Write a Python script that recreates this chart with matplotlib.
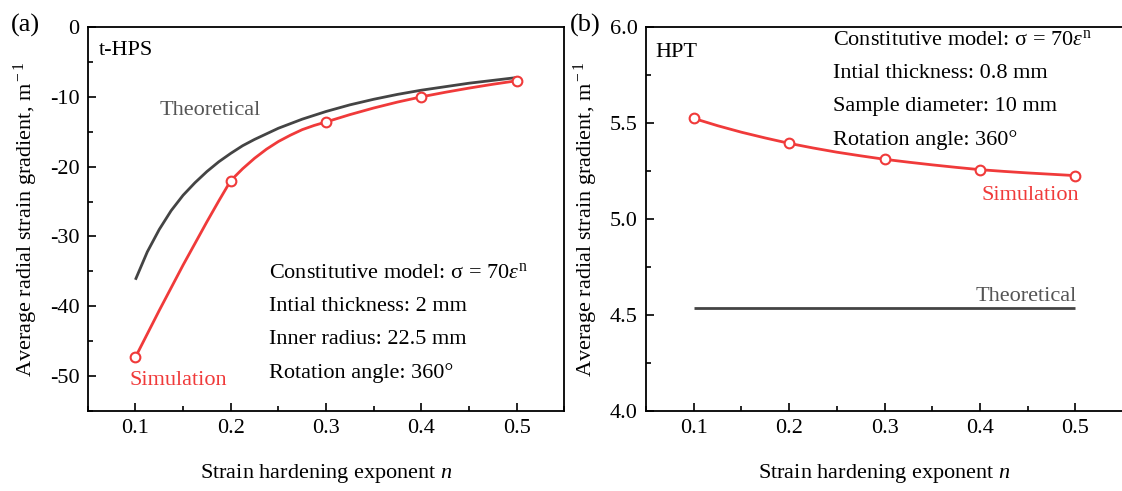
import numpy as np
from matplotlib import pyplot as plt
from matplotlib.ticker import MultipleLocator

# ---- data ----
n_pts = [0.1, 0.2, 0.3, 0.4, 0.5]

# (a) t-HPS
hps_sim = [-47.3, -22.0, -13.6, -10.0, -7.7]
hps_sim_line_n = [0.1, 0.1125, 0.125, 0.1375, 0.15, 0.1625, 0.175, 0.1875, 0.2,
                  0.2125, 0.225, 0.2375, 0.25, 0.2625, 0.275, 0.2875, 0.3,
                  0.325, 0.35, 0.375, 0.4, 0.425, 0.45, 0.475, 0.5]
hps_sim_line = [-47.3, -43.95, -40.6, -37.35, -34.1, -31.0, -27.9, -24.9, -22.0,
                -20.3, -18.8, -17.5, -16.4, -15.5, -14.7, -14.1, -13.6,
                -12.55, -11.6, -10.75, -10.0, -9.35, -8.75, -8.2, -7.7]
hps_theo_n = [0.1, 0.1125, 0.125, 0.1375, 0.15, 0.1625, 0.175, 0.1875, 0.2, 0.2125,
              0.225, 0.25, 0.275, 0.3, 0.325, 0.35, 0.375, 0.4, 0.45, 0.5]
hps_theo = [-36.2, -32.2, -29.0, -26.3, -24.1, -22.3, -20.7, -19.3, -18.1, -17.0,
            -16.1, -14.5, -13.2, -12.1, -11.15, -10.35, -9.65, -9.05, -8.05, -7.24]

# (b) HPT
hpt_sim = [5.524, 5.394, 5.311, 5.257, 5.226]
hpt_sim_line_n = [0.1, 0.125, 0.15, 0.175, 0.2, 0.225, 0.25, 0.275, 0.3,
                  0.325, 0.35, 0.375, 0.4, 0.425, 0.45, 0.475, 0.5]
hpt_sim_line = [5.524, 5.486, 5.452, 5.422, 5.394, 5.370, 5.348, 5.329, 5.311,
                5.296, 5.282, 5.269, 5.257, 5.248, 5.240, 5.233, 5.226]
hpt_theo_n = [0.1, 0.5]
hpt_theo = [4.535, 4.535]

hps_notes = ["Constitutive model: σ = 70$\\varepsilon^{\\rm n}$",
             "Intial thickness: 2 mm",
             "Inner radius: 22.5 mm",
             "Rotation angle: 360°"]
hpt_notes = ["Constitutive model: σ = 70$\\varepsilon^{\\rm n}$",
             "Intial thickness: 0.8 mm",
             "Sample diameter: 10 mm",
             "Rotation angle: 360°"]

RED = "#f03a3a"
DARK = "#444444"
GREY_TXT = "#555555"
FS = 16

plt.rcParams['font.family'] = ['Liberation Serif', 'DejaVu Serif']
plt.rcParams['mathtext.fontset'] = 'custom'
plt.rcParams['mathtext.rm'] = 'Liberation Serif'
plt.rcParams['mathtext.it'] = 'Liberation Serif:italic'
plt.rcParams['axes.unicode_minus'] = False
plt.rcParams['font.size'] = FS

fig = plt.figure(figsize=(11.22, 4.91), dpi=100)
ax1 = fig.add_axes([0.0782, 0.1629, 0.4248, 0.7821])
ax2 = fig.add_axes([0.5758, 0.1629, 0.4252, 0.7821])


def style_axis(ax):
    for s in ax.spines.values():
        s.set_linewidth(1.3)
    ax.tick_params(which='both', direction='in', width=1.2, labelsize=FS)
    ax.tick_params(which='major', length=6, pad=6)
    ax.tick_params(which='minor', length=3.5)
    ax.xaxis.set_major_locator(MultipleLocator(0.1))
    ax.xaxis.set_minor_locator(MultipleLocator(0.05))
    ax.set_xlim(0.05, 0.55)
    ax.set_xlabel("Strain hardening exponent $\\it{n}$", fontsize=FS, labelpad=17)
    ax.set_ylabel("Average radial strain gradient, m$^{\\rm -1}$", fontsize=FS, labelpad=7)


# panel (a)
ax1.plot(hps_theo_n, hps_theo, color=DARK, lw=2.0, solid_capstyle='butt')
ax1.plot(hps_sim_line_n, hps_sim_line, color=RED, lw=2.0)
ax1.plot(n_pts, hps_sim, 'o', ms=7, mfc='white', mec=RED, mew=1.5)
style_axis(ax1)
ax1.set_ylim(-55, 0)
ax1.yaxis.set_major_locator(MultipleLocator(10))
ax1.yaxis.set_minor_locator(MultipleLocator(5))
ax1.text(0.024, 0.94, "t-HPS", transform=ax1.transAxes, fontsize=FS, va='center')
ax1.text(0.178, -11.9, "Theoretical", color=GREY_TXT, fontsize=FS, ha='center', va='center')
ax1.text(0.145, -50.6, "Simulation", color=RED, fontsize=FS, ha='center', va='center')
for i, t in enumerate(hps_notes):
    ax1.text(0.2405, -35.2 - i * 4.79, t, fontsize=FS, va='center')

# panel (b)
ax2.plot(hpt_theo_n, hpt_theo, color=DARK, lw=2.0, solid_capstyle='butt')
ax2.plot(hpt_sim_line_n, hpt_sim_line, color=RED, lw=2.0)
ax2.plot(n_pts, hpt_sim, 'o', ms=7, mfc='white', mec=RED, mew=1.5)
style_axis(ax2)
ax2.set_ylim(4.0, 6.0)
ax2.yaxis.set_major_locator(MultipleLocator(0.5))
ax2.yaxis.set_minor_locator(MultipleLocator(0.25))
ax2.yaxis.set_major_formatter(plt.FormatStrFormatter('%.1f'))
ax2.text(0.02, 0.934, "HPT", transform=ax2.transAxes, fontsize=FS, va='center')
ax2.text(0.448, 4.598, "Theoretical", color=GREY_TXT, fontsize=FS, ha='center', va='center')
ax2.text(0.453, 5.12, "Simulation", color=RED, fontsize=FS, ha='center', va='center')
for i, t in enumerate(hpt_notes):
    ax2.text(0.2457, 5.932 - i * 0.1734, t, fontsize=FS, va='center')

fig.text(0.010, 0.949, "(a)", fontsize=19, va='center')
fig.text(0.508, 0.949, "(b)", fontsize=19, va='center')

fig.savefig("out.png", dpi=100)
